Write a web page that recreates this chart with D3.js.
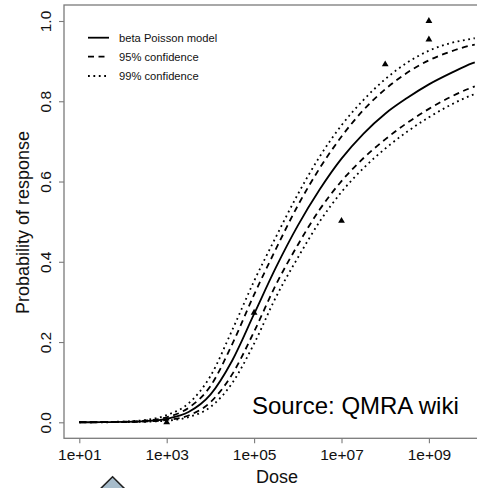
<!DOCTYPE html>
<html>
<head>
<meta charset="utf-8">
<script src="https://cdn.jsdelivr.net/npm/d3@7"></script>
<style>
  html, body { margin: 0; padding: 0; background: #fff; overflow: hidden; }
  svg { display: block; font-family: "Liberation Sans", Arial, sans-serif; }
</style>
</head>
<body>
<svg id="chart" width="477" height="488"></svg>
<script>
// ---- data ----
const logDose = [1, 1.5, 2, 2.5, 3, 3.5, 4, 4.5, 5, 5.5, 6, 6.5, 7, 7.5, 8, 8.5, 9, 9.5, 10, 10.05];
const modelFit = [0.0001, 0.0003, 0.0009, 0.0028, 0.0086, 0.0255, 0.0689, 0.154, 0.270, 0.386, 0.490, 0.580, 0.657, 0.719, 0.769, 0.808, 0.842, 0.870, 0.895, 0.897];
const upper95 = [0.0002, 0.0005, 0.0013, 0.0040, 0.0125, 0.036, 0.090, 0.195, 0.318, 0.432, 0.540, 0.633, 0.712, 0.778, 0.830, 0.871, 0.902, 0.924, 0.940, 0.941];
const upper99 = [0.0002, 0.0007, 0.0019, 0.0055, 0.018, 0.047, 0.115, 0.230, 0.352, 0.462, 0.568, 0.662, 0.740, 0.803, 0.855, 0.896, 0.926, 0.945, 0.956, 0.957];
const lower95 = [0.0001, 0.0002, 0.0006, 0.0019, 0.0058, 0.017, 0.050, 0.120, 0.226, 0.343, 0.442, 0.530, 0.601, 0.658, 0.705, 0.746, 0.781, 0.811, 0.835, 0.837];
const lower99 = [0.0000, 0.0001, 0.0004, 0.0013, 0.0040, 0.013, 0.038, 0.098, 0.196, 0.312, 0.410, 0.500, 0.574, 0.633, 0.682, 0.724, 0.760, 0.791, 0.816, 0.818];

const obsDose = [1e3, 1e5, 1e7, 1e8, 1e9, 1e9];
const obsResp = [0.0, 0.273, 0.502, 0.892, 1.0, 0.954];

const xTickValues = [1e1, 1e3, 1e5, 1e7, 1e9];
const xTickLabels = ["1e+01", "1e+03", "1e+05", "1e+07", "1e+09"];
const yTickValues = [0, 0.2, 0.4, 0.6, 0.8, 1.0];
const yTickLabels = ["0.0", "0.2", "0.4", "0.6", "0.8", "1.0"];

const legendLabels = ["beta Poisson model", "95% confidence", "99% confidence"];
const sourceText = "Source: QMRA wiki";

// ---- layout ----
const box = { left: 64, top: 5, right: 490, bottom: 438.3 };
const svg = d3.select("#chart");

const x = d3.scaleLog().domain([1e1, 1e9]).range([79.3, 428.9]);
const y = d3.scaleLinear().domain([0, 1]).range([422.3, 21]);

const axisColor = "#7a7a7a";

svg.append("defs").append("clipPath").attr("id", "plotclip")
  .append("rect")
  .attr("x", box.left).attr("y", box.top)
  .attr("width", box.right - box.left).attr("height", box.bottom - box.top);

// curves
const styles = {
  solid: { dash: null, w: 1.8 },
  dashed: { dash: "6,4.5", w: 1.8 },
  dotted: { dash: "1.8,3.6", w: 1.8 }
};
const line = d3.line()
  .x(d => x(Math.pow(10, d[0])))
  .y(d => y(d[1]))
  .curve(d3.curveMonotoneX);

const series = [
  { vals: upper99, st: styles.dotted },
  { vals: lower99, st: styles.dotted },
  { vals: upper95, st: styles.dashed },
  { vals: lower95, st: styles.dashed },
  { vals: modelFit, st: styles.solid }
];
const g = svg.append("g").attr("clip-path", "url(#plotclip)");
series.forEach(s => {
  g.append("path")
    .attr("d", line(logDose.map((l, i) => [l, s.vals[i]])))
    .attr("fill", "none")
    .attr("stroke", "#000")
    .attr("stroke-width", s.st.w)
    .attr("stroke-dasharray", s.st.dash)
    .attr("stroke-linecap", "butt");
});

// observed points
g.selectAll("path.pt")
  .data(obsDose.map((d, i) => [d, obsResp[i]]))
  .enter().append("path")
  .attr("class", "pt")
  .attr("d", d3.symbol().type(d3.symbolTriangle).size(20))
  .attr("transform", d => `translate(${x(d[0])},${y(d[1])})`)
  .attr("fill", "#000");

// box
svg.append("rect")
  .attr("x", box.left).attr("y", box.top)
  .attr("width", box.right - box.left).attr("height", box.bottom - box.top)
  .attr("fill", "none").attr("stroke", axisColor).attr("stroke-width", 1.3);

// axes
const xAxis = svg.append("g")
  .attr("transform", `translate(0,${box.bottom})`)
  .call(d3.axisBottom(x).tickValues(xTickValues)
    .tickFormat((d, i) => xTickLabels[i]).tickSize(5).tickSizeOuter(0).tickPadding(4));
xAxis.select(".domain").remove();
xAxis.selectAll(".tick line").attr("stroke", axisColor).attr("stroke-width", 1.1);
xAxis.selectAll(".tick text")
  .attr("font-size", "15.5px").attr("fill", "#111")
  .attr("font-family", "Liberation Sans, Arial, sans-serif")
  .attr("dy", null).attr("y", 21.7);

const yAxis = svg.append("g")
  .attr("transform", `translate(${box.left},0)`)
  .call(d3.axisLeft(y).tickValues(yTickValues)
    .tickFormat((d, i) => yTickLabels[i]).tickSize(5).tickSizeOuter(0));
yAxis.select(".domain").remove();
yAxis.selectAll(".tick line").attr("stroke", axisColor).attr("stroke-width", 1.1);
yAxis.selectAll(".tick text")
  .attr("font-size", "15.5px").attr("fill", "#111")
  .attr("font-family", "Liberation Sans, Arial, sans-serif")
  .attr("text-anchor", "middle")
  .attr("dy", null).attr("x", null)
  .attr("transform", "translate(-13.5,0) rotate(-90)");

// axis titles
svg.append("text")
  .attr("x", 277).attr("y", 483)
  .attr("text-anchor", "middle")
  .attr("font-size", "18px").attr("fill", "#111")
  .text("Dose");
svg.append("text")
  .attr("transform", "translate(28.5,222.5) rotate(-90)")
  .attr("text-anchor", "middle")
  .attr("font-size", "18px").attr("fill", "#111")
  .text("Probability of response");

// legend
const legendStyles = [styles.solid, styles.dashed, styles.dotted];
const legendY = [37.7, 56.7, 76];
legendLabels.forEach((lab, i) => {
  svg.append("line")
    .attr("x1", 88).attr("x2", 109)
    .attr("y1", legendY[i]).attr("y2", legendY[i])
    .attr("stroke", "#000").attr("stroke-width", legendStyles[i].w)
    .attr("stroke-dasharray", legendStyles[i].dash);
  svg.append("text")
    .attr("x", 119).attr("y", legendY[i])
    .attr("dy", "0.35em")
    .attr("font-size", "11.2px").attr("fill", "#111")
    .text(lab);
});

// source note
svg.append("text")
  .attr("x", 252).attr("y", 414)
  .attr("font-size", "24px").attr("fill", "#000")
  .text(sourceText);

// partial arrow shape at the bottom edge
svg.append("path")
  .attr("d", "M112.6,476.8 L88,501 L137,501 Z")
  .attr("fill", "#a7bccb")
  .attr("stroke", "#222")
  .attr("stroke-width", 1.6);
</script>
</body>
</html>
